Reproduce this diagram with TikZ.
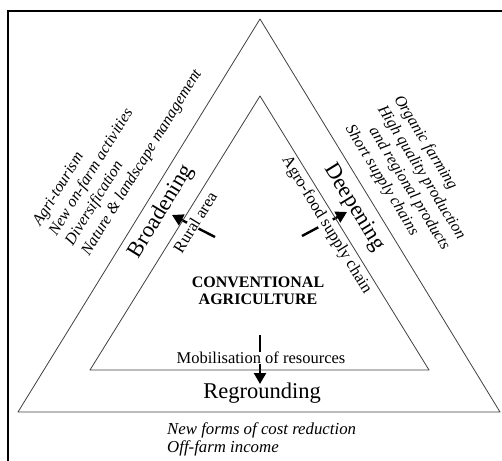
\documentclass[tikz,border=0pt]{standalone}
\usepackage{fontspec}
\setmainfont{Liberation Serif}
\usetikzlibrary{arrows.meta}
\tikzset{
  side/.style={draw=black!75,line width=0.8pt,line join=round},
  push/.style={line width=2.4pt,-{Triangle[length=11pt,width=12pt]}},
  txt/.style={font=\fontsize{16.5}{19}\selectfont,inner sep=0.5pt},
  ontxt/.style={txt,fill=white},
  strategy/.style={font=\fontsize{22.5}{26}\selectfont,inner sep=0pt},
  itemlist/.style={font=\fontsize{16}{19}\itshape\selectfont,align=left,inner sep=0pt}
}
\begin{document}
\begin{tikzpicture}[x=1pt,y=1pt]
          \useasboundingbox (0,0) rectangle (502,460);
          \draw[line width=1.6pt] (8,-20)--(8,449)--(530,449);
          % arrows first, the labels are laid over them
          \coordinate (btail) at (215,223);
          \coordinate (btip) at (172,245);
          \coordinate (dtail) at (302,224);
          \coordinate (dtip) at (347,248);
          \coordinate (rtail) at (260,125);
          \coordinate (rtip) at (260,76);
          \draw[push] (btail)--(btip);
          \draw[push] (dtail)--(dtip);
          \draw[push] (rtail)--(rtip);
          \node[ontxt,rotate=58.4] (rural) at (195,238) {Rural area};
          \node[ontxt,rotate=-58.4] (chain) at (326.5,235) {Agro-food supply chain};
          \node[ontxt] (mob) at (261,102) {Mobilisation of resources};
          % the two triangles
          \coordinate (otop) at (260,441);
          \coordinate (oleft) at (18,48);
          \coordinate (oright) at (500,48);
          \coordinate (itop) at (260,364);
          \coordinate (ileft) at (90,90);
          \coordinate (iright) at (429,90);
          \draw[side] (otop)--(oleft)--(oright)--cycle;
          \draw[side] (itop)--(ileft)--(iright)--cycle;
          \node[font=\fontsize{16}{17}\bfseries\selectfont,align=center] (conv) at (258,169.5) {CONVENTIONAL\\AGRICULTURE};
          \node[strategy,rotate=58.4] (broad) at (161.5,248.5) {Broadening};
          \node[strategy,rotate=-58.4] (deep) at (354,252.5) {Deepening};
          \node[strategy] (reground) at (262,67) {Regrounding};
          \node[itemlist,rotate=58.4] (broadlist) at (118,312) {Agri-tourism\\New on-farm activities\\Diversification\\Nature \& landscape management};
          \node[itemlist,rotate=-58.4] (deeplist) at (413.5,282) {Organic farming\\High quality production\\\hspace*{14pt}and regional products\\Short supply chains};
          \node[itemlist,anchor=west,font=\fontsize{16.8}{18}\itshape\selectfont] (costs) at (167,21) {New forms of cost reduction\\Off-farm income};
        \end{tikzpicture}
\end{document}
